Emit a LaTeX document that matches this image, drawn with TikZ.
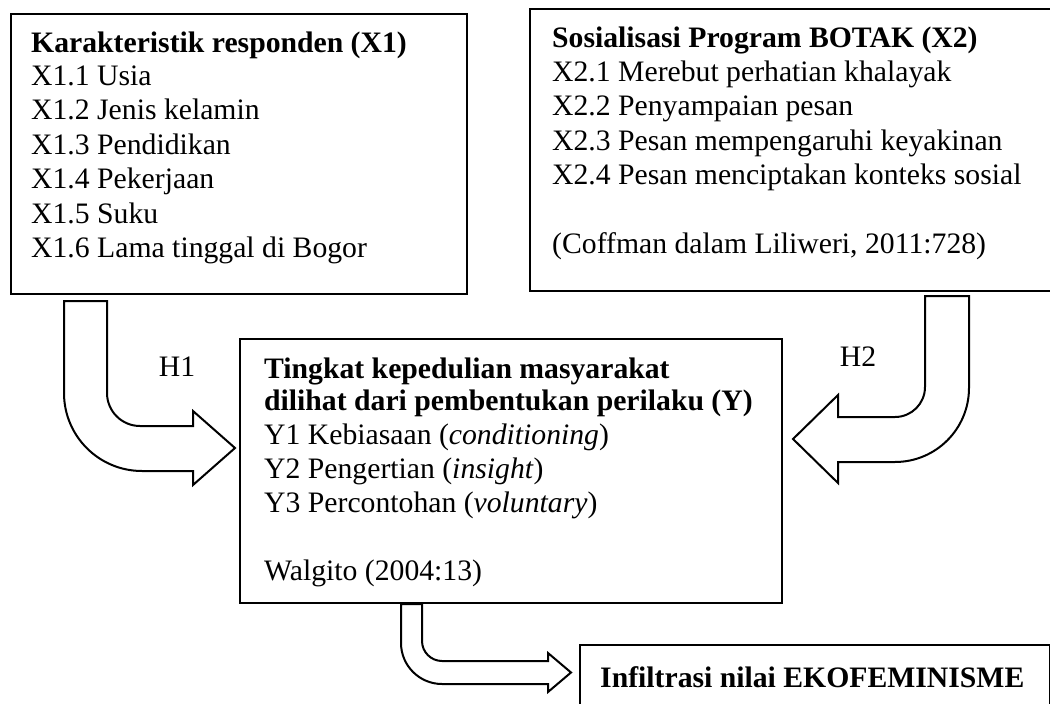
\documentclass[tikz,border=0pt]{standalone}
\usepackage{fontspec}
\setmainfont{Liberation Serif}
\begin{document}
\begin{tikzpicture}[x=1pt,y=-1pt,
  box/.style={draw=black, line width=2pt, fill=white, inner sep=0pt, anchor=north west},
  txt/.style={inner sep=0pt, anchor=base west},
  blockarrow/.style={draw=black, line width=2pt, fill=white, line join=miter},
  font=\fontsize{29.7pt}{34pt}\selectfont]
\useasboundingbox (0,0) rectangle (1050,704);

% boxes
\node[box, minimum width=456pt, minimum height=280pt] (x1) at (10,13) {};
\node[box, minimum width=524pt, minimum height=282pt] (x2) at (529,8) {};
\node[box, minimum width=542pt, minimum height=264pt] (y) at (239,338) {};
\node[box, minimum width=470pt, minimum height=80pt] (inf) at (579,644) {};

% X1 text
\node[txt] (x1t) at (31,52) {\textbf{Karakteristik responden (X1)}};
\node[txt] (x1a) at (31,85) {X1.1 Usia};
\node[txt] (x1b) at (31,119.5) {X1.2 Jenis kelamin};
\node[txt] (x1c) at (31,154) {X1.3 Pendidikan};
\node[txt] (x1d) at (31,188.5) {X1.4 Pekerjaan};
\node[txt] (x1e) at (31,223) {X1.5 Suku};
\node[txt] (x1f) at (31,257.5) {X1.6 Lama tinggal di Bogor};

% X2 text
\node[txt] (x2t) at (552,47) {\textbf{Sosialisasi Program BOTAK (X2)}};
\node[txt] (x2a) at (552,81) {X2.1 Merebut perhatian khalayak};
\node[txt] (x2b) at (552,115.5) {X2.2 Penyampaian pesan};
\node[txt] (x2c) at (552,150) {X2.3 Pesan mempengaruhi keyakinan};
\node[txt] (x2d) at (552,184.5) {X2.4 Pesan menciptakan konteks sosial};
\node[txt] (x2s) at (552,253.5) {(Coffman dalam Liliweri, 2011:728)};

% Y text
\node[txt] (yt1) at (264,378) {\textbf{Tingkat kepedulian masyarakat}};
\node[txt] (yt2) at (264,410) {\textbf{dilihat dari pembentukan perilaku (Y)}};
\node[txt] (ya) at (264,444) {Y1 Kebiasaan (\textit{conditioning})};
\node[txt] (yb) at (264,478) {Y2 Pengertian (\textit{insight})};
\node[txt] (yc) at (264,512) {Y3 Percontohan (\textit{voluntary})};
\node[txt] (ys) at (264,580) {Walgito (2004:13)};

% Infiltrasi text
\node[txt] (inft) at (600,687) {\textbf{Infiltrasi nilai EKOFEMINISME}};

% H1 arrow
\draw[blockarrow] (64,301) -- (107,301) -- (107,393)
  .. controls (107,411.2) and (121.8,426) .. (140,426) -- (193,426) -- (193,411)
  -- (235,448) -- (193,485) -- (193,471) -- (142,471)
  .. controls (98.9,471) and (64,436.1) .. (64,393) -- cycle;
\node (h1) at (177,367) {H1};

% H2 arrow
\draw[blockarrow] (969,296) -- (925,296) -- (925,387)
  .. controls (925,403.6) and (911.6,417) .. (895,417) -- (838,417) -- (838,395)
  -- (793,439) -- (838,483) -- (838,462) -- (895,462)
  .. controls (935.9,462) and (969,428.9) .. (969,388) -- cycle;
\node (h2) at (858,357) {H2};

% bottom arrow
\draw[blockarrow] (401,604) -- (422,604) -- (422,641)
  .. controls (422,652) and (431,661) .. (442,661) -- (548,661) -- (548,653)
  -- (571,672.5) -- (548,692) -- (548,684) -- (442,684)
  .. controls (419.4,684) and (401,665.6) .. (401,643) -- cycle;
\end{tikzpicture}
\end{document}
